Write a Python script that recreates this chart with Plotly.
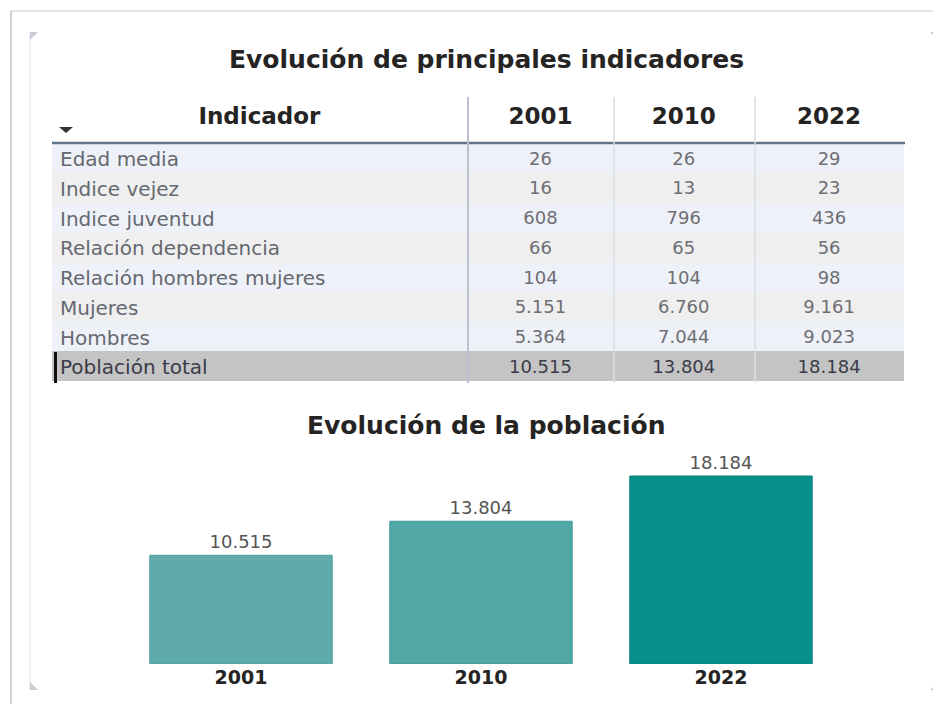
import plotly.graph_objects as go

# ---- data ----
years = ["2001", "2010", "2022"]
indicators = ["Edad media", "Indice vejez", "Indice juventud", "Relación dependencia",
              "Relación hombres mujeres", "Mujeres", "Hombres", "Población total"]
v2001 = [26, 16, 608, 66, 104, 5151, 5364, 10515]
v2010 = [26, 13, 796, 65, 104, 6760, 7044, 13804]
v2022 = [29, 23, 436, 56, 98, 9161, 9023, 18184]
population = [10515, 13804, 18184]

W, H = 941, 704
OFF = 8  # default page body margin


def px_x(x):
    return (x - OFF) / W


def px_y(y):
    return 1 - (y - OFF) / H


def fmt(v):
    return f"{v:,}".replace(",", ".")


row_fills = ["#EEF2F8", "#EFEFEF", "#EEF2F8", "#EFEFEF", "#EEF2F8", "#EFEFEF", "#EEF2F8", "#C4C4C4"]
label_colors = ["#666870"] * 7 + ["#3A3B48"]
value_colors = ["#6E6E74"] * 7 + ["#3A3B48"]
bar_colors = ["#5FABAB", "#52A8A7", "#078F8C"]
bar_lines = ["#4E9C9C", "#43999A", "#057E7B"]

FONT = "DejaVu Sans"

fig = go.Figure()

fig.add_trace(go.Table(
    domain=dict(x=[px_x(52), px_x(905)], y=[px_y(383), px_y(95)]),
    columnwidth=[416, 146, 141, 150],
    header=dict(
        values=["<b>Indicador</b>"] + [f"<b>{y}</b>" for y in years],
        fill_color="white",
        line=dict(width=0, color="white"),
        align="center",
        height=48,
        font=dict(family=FONT, size=23, color="#252423"),
    ),
    cells=dict(
        values=[indicators, [fmt(v) for v in v2001], [fmt(v) for v in v2010], [fmt(v) for v in v2022]],
        fill_color=[row_fills] * 4,
        line=dict(width=0, color="white"),
        align=["left", "center", "center", "center"],
        height=29.75,
        font=dict(family=FONT, size=[20, 18, 18, 18],
                  color=[label_colors, value_colors, value_colors, value_colors]),
    ),
))

fig.add_trace(go.Bar(
    x=years, y=population,
    marker=dict(color=bar_colors, line=dict(color=bar_lines, width=1)),
    width=0.76,
    texttemplate="%{y:,.0f}",
    textposition="outside",
    textfont=dict(family=FONT, size=18, color="#555555"),
    cliponaxis=False,
    hoverinfo="skip",
))

ymax = population[-1] * 224 / 188

fig.update_layout(
    width=W, height=H,
    margin=dict(l=0, r=0, t=0, b=0),
    paper_bgcolor="white", plot_bgcolor="white",
    separators=",.",
    showlegend=False,
    xaxis=dict(domain=[px_x(121), px_x(841)], type="category", showgrid=False, zeroline=False,
               showline=False, ticks="", tickfont=dict(family=FONT, size=19, color="#252423", weight="bold")),
    yaxis=dict(domain=[px_y(664), px_y(440)], range=[0, ymax], visible=False),
    font=dict(family=FONT),
)

# titles
fig.add_annotation(x=px_x(486), y=px_y(60), xref="paper", yref="paper", showarrow=False,
                   xanchor="center", yanchor="middle",
                   text="<b>Evolución de principales indicadores</b>",
                   font=dict(family=FONT, size=25, color="#252423"))
fig.add_annotation(x=px_x(486), y=px_y(425), xref="paper", yref="paper", showarrow=False,
                   xanchor="center", yanchor="middle",
                   text="<b>Evolución de la población</b>",
                   font=dict(family=FONT, size=25, color="#252423"))
# sort caret
fig.add_shape(type="path", xref="paper", yref="paper",
              path=f"M {px_x(59)} {px_y(127)} L {px_x(73)} {px_y(127)} L {px_x(66)} {px_y(133)} Z",
              fillcolor="#333333", line=dict(width=0))

# table lines
fig.add_shape(type="line", xref="paper", yref="paper", x0=px_x(52), x1=px_x(905), y0=px_y(143), y1=px_y(143),
              line=dict(color="#627586", width=2.5))
fig.add_shape(type="line", xref="paper", yref="paper", x0=px_x(468), x1=px_x(468), y0=px_y(97), y1=px_y(383),
              line=dict(color="#B9C2CD", width=2))
for xs in (614, 755):
    fig.add_shape(type="line", xref="paper", yref="paper", x0=px_x(xs), x1=px_x(xs), y0=px_y(97), y1=px_y(383),
                  line=dict(color="#D9DDE4", width=1.5))
# total row marker
fig.add_shape(type="rect", xref="paper", yref="paper", x0=px_x(54), x1=px_x(57), y0=px_y(383), y1=px_y(352),
              fillcolor="#111111", line=dict(width=0))

# card frame
fig.add_shape(type="line", xref="paper", yref="paper", x0=px_x(11), x1=1, y0=px_y(11), y1=px_y(11),
              line=dict(color="#DADADA", width=1.5))
fig.add_shape(type="line", xref="paper", yref="paper", x0=px_x(11), x1=px_x(11), y0=px_y(11), y1=0,
              line=dict(color="#CFCFCF", width=2))
fig.add_shape(type="line", xref="paper", yref="paper", x0=px_x(30), x1=px_x(30), y0=px_y(32), y1=px_y(690),
              line=dict(color="#EEF1F5", width=1.5))
for (cx, cy, dx, dy) in [(30, 32, 8, 8), (934, 32, -4, 4), (30, 690, 8, -8), (936, 690, -6, -6)]:
    fig.add_shape(type="path", xref="paper", yref="paper",
                  path=f"M {px_x(cx)} {px_y(cy)} L {px_x(cx + dx)} {px_y(cy)} L {px_x(cx)} {px_y(cy + dy)} Z",
                  fillcolor="#C8CCD4", line=dict(width=0))

fig.write_html("out.html")
